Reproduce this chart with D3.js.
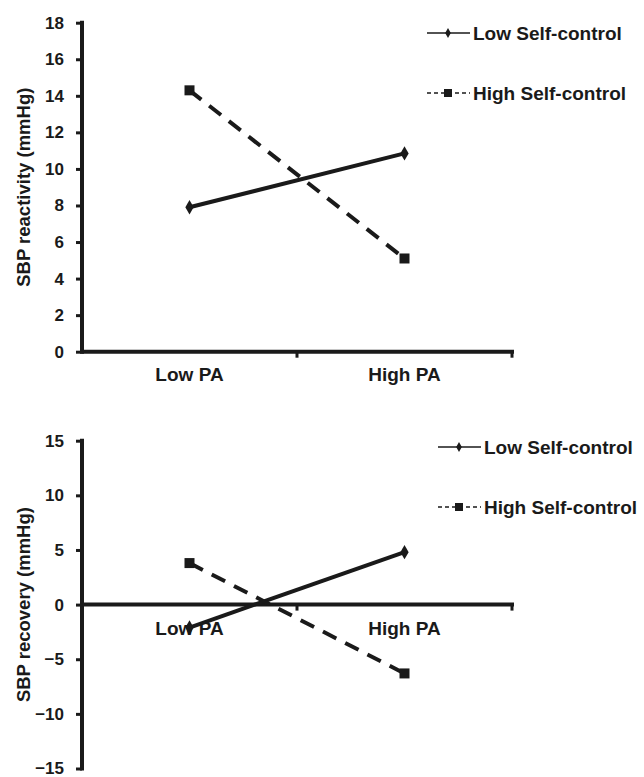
<!DOCTYPE html>
<html>
<head>
<meta charset="utf-8">
<script src="https://cdn.jsdelivr.net/npm/d3@7"></script>
<style>
  html, body { margin: 0; padding: 0; background: #fff; }
  svg text { font-family: "Liberation Sans", Arial, sans-serif; font-weight: bold; fill: #1a1a1a; }
</style>
</head>
<body>
<svg id="chart" width="644" height="777"></svg>
<script>
/* Two interaction plots: SBP reactivity and recovery by PA and self-control. */
const categories = ["Low PA", "High PA"];
const seriesNames = ["Low Self-control", "High Self-control"];

const reactivityLow = [7.9, 10.85];
const reactivityHigh = [14.3, 5.1];
const reactivityTicks = [0, 2, 4, 6, 8, 10, 12, 14, 16, 18];

const recoveryLow = [-2.1, 4.8];
const recoveryHigh = [3.8, -6.3];
const recoveryTicks = [-15, -10, -5, 0, 5, 10, 15];

const ink = "#1a1a1a";
const svg = d3.select("#chart");

function drawPanel(opts) {
  const g = svg.append("g");
  const x = d3.scaleBand().domain(categories).range([82, 512]).padding(0);
  const y = d3.scaleLinear().domain(opts.domain).range([opts.bottom, opts.top]);
  const cx = (c) => x(c) + x.bandwidth() / 2;

  // y axis
  const yAxis = g.append("g").attr("transform", "translate(82,0)")
    .call(d3.axisLeft(y).tickValues(opts.ticks).tickSize(6).tickPadding(12));
  yAxis.select(".domain").remove();
  yAxis.selectAll(".tick line").attr("stroke", ink).attr("stroke-width", 3);
  yAxis.selectAll(".tick text").attr("font-size", 17).attr("fill", ink);
  g.append("line")
    .attr("x1", 82).attr("x2", 82)
    .attr("y1", y(opts.domain[1]) - 2).attr("y2", y(opts.domain[0]) + 2)
    .attr("stroke", ink).attr("stroke-width", 4);

  // x axis at zero
  const y0 = y(0);
  g.append("line")
    .attr("x1", 82).attr("x2", 514)
    .attr("y1", y0).attr("y2", y0)
    .attr("stroke", ink).attr("stroke-width", 4);
  g.selectAll(".xtick").data([x("High PA"), 512]).join("line")
    .attr("x1", (d) => d).attr("x2", (d) => d)
    .attr("y1", y0).attr("y2", y0 + 6)
    .attr("stroke", ink).attr("stroke-width", 3);
  g.selectAll(".xlabel").data(categories).join("text")
    .attr("x", (d) => cx(d))
    .attr("y", y0 + opts.labelGap)
    .attr("text-anchor", "middle")
    .attr("font-size", 19)
    .text((d) => d);

  // axis title
  g.append("text")
    .attr("transform", `translate(30,${(opts.top + opts.bottom) / 2}) rotate(-90)`)
    .attr("text-anchor", "middle")
    .attr("font-size", 18.5)
    .text(opts.title);

  const line = d3.line().x((d, i) => cx(categories[i])).y((d) => y(d));

  // low self-control: solid with diamonds
  g.append("path").attr("d", line(opts.low))
    .attr("fill", "none").attr("stroke", ink).attr("stroke-width", 4);
  g.selectAll(".dia").data(opts.low).join("path")
    .attr("d", d3.symbol(d3.symbolDiamond, 60))
    .attr("transform", (d, i) => `translate(${cx(categories[i])},${y(d)})`)
    .attr("fill", ink);

  // high self-control: dashed with squares
  g.append("path").attr("d", line(opts.high))
    .attr("fill", "none").attr("stroke", ink).attr("stroke-width", 4)
    .attr("stroke-dasharray", "15,10");
  g.selectAll(".sq").data(opts.high).join("rect")
    .attr("x", (d, i) => cx(categories[i]) - 5)
    .attr("y", (d) => y(d) - 5)
    .attr("width", 10).attr("height", 10)
    .attr("fill", ink);

  // legend
  const lg = g.append("g").attr("transform", `translate(${opts.legendX},${opts.legendY})`);
  seriesNames.forEach((name, i) => {
    const row = lg.append("g").attr("transform", `translate(0,${i * 60})`);
    row.append("line").attr("x1", 0).attr("x2", 43).attr("y1", 0).attr("y2", 0)
      .attr("stroke", ink).attr("stroke-width", 1.5)
      .attr("stroke-dasharray", i === 0 ? null : "4,3");
    if (i === 0) {
      row.append("path").attr("d", d3.symbol(d3.symbolDiamond, 28)).attr("transform", "translate(21,0)").attr("fill", ink);
    } else {
      row.append("rect").attr("x", 17).attr("y", -4).attr("width", 8).attr("height", 8).attr("fill", ink);
    }
    row.append("text").attr("x", 46).attr("y", 0).attr("dy", "0.35em")
      .attr("font-size", 19).text(name);
  });
}

drawPanel({
  domain: [0, 18], ticks: reactivityTicks, top: 22.7, bottom: 351.7,
  low: reactivityLow, high: reactivityHigh,
  title: "SBP reactivity (mmHg)", labelGap: 29,
  legendX: 427, legendY: 33
});

drawPanel({
  domain: [-15, 15], ticks: recoveryTicks, top: 440.7, bottom: 768.5,
  low: recoveryLow, high: recoveryHigh,
  title: "SBP recovery (mmHg)", labelGap: 30,
  legendX: 438, legendY: 447
});
</script>
</body>
</html>
